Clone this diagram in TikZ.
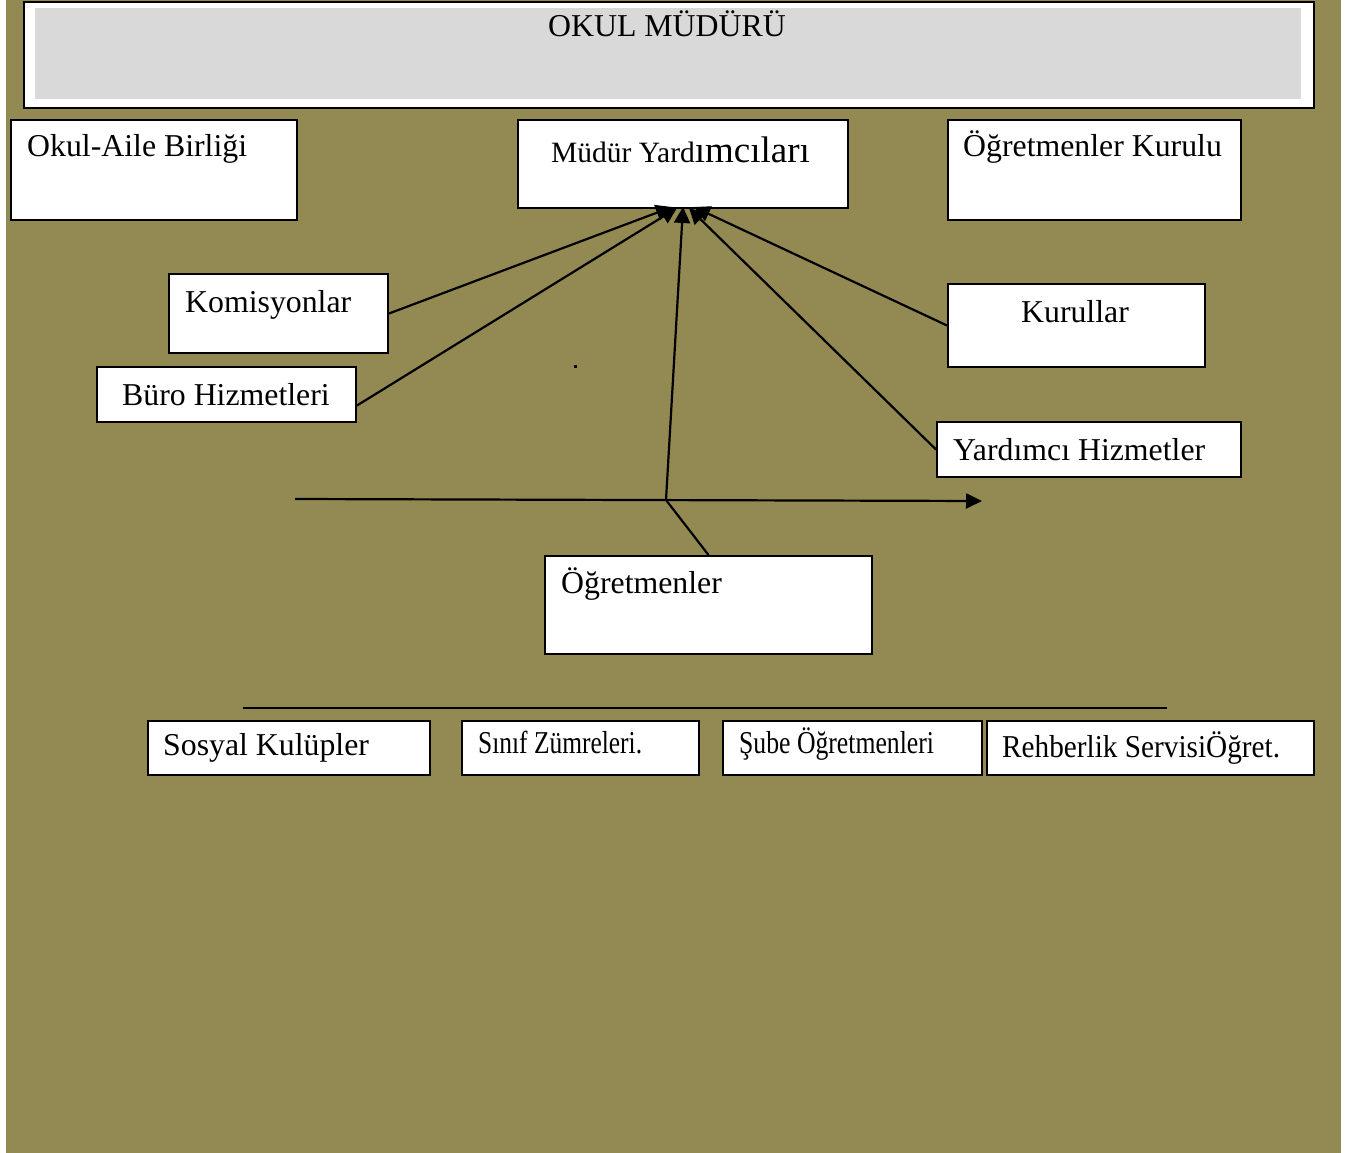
\documentclass[tikz,border=0pt]{standalone}
\usepackage{fontspec}
\setmainfont{Liberation Serif}
\usepackage{graphicx}
\usetikzlibrary{calc,arrows.meta}
\definecolor{olive}{RGB}{147,138,83}
\definecolor{boxgray}{RGB}{217,217,217}
\tikzset{
  box/.style={draw=black, line width=2pt, fill=white, inner sep=0pt, anchor=north west},
  lbl/.style={inner sep=0pt, anchor=base west, font=\fontsize{31.8pt}{36pt}\selectfont},
  conn/.style={draw=black, line width=2.2pt},
  tip/.style={-{Triangle[length=16pt,width=16pt]}}
}
\begin{document}
\begin{tikzpicture}[x=1pt,y=-1pt]
\useasboundingbox (0,0) rectangle (1352,1153);
\fill[white] (0,0) rectangle (1352,1153);
\fill[olive] (6,0) rectangle (1341,1153);
% top box
\node[box, minimum width=1290pt, minimum height=106pt] (top) at (23,1) {};
\fill[boxgray] (35,8) rectangle (1301,99);
\node[inner sep=0pt, anchor=base, font=\fontsize{31.8pt}{36pt}\selectfont] (toplbl) at (667,37) {OKUL MÜDÜRÜ};
% boxes
\node[box, minimum width=286pt, minimum height=100pt] (oab) at (10,119) {};
\node[lbl] (oablbl) at (27,157) {Okul-Aile Birliği};
\node[box, minimum width=330pt, minimum height=88pt] (my) at (517,119) {};
\node[inner sep=0pt, anchor=base west] (mylbl) at (551,162) {\fontsize{29.5pt}{34pt}\selectfont Müdür Yard\fontsize{37pt}{40pt}\selectfont ımcıları};
\node[box, minimum width=293pt, minimum height=100pt] (ok) at (947,119) {};
\node[lbl] (oklbl) at (963,157) {Öğretmenler Kurulu};
\node[box, minimum width=219pt, minimum height=79pt] (kom) at (168,273) {};
\node[lbl] (komlbl) at (185,312) {Komisyonlar};
\node[box, minimum width=259pt, minimum height=55pt] (bu) at (96,366) {};
\node[lbl] (bulbl) at (122,405) {Büro Hizmetleri};
\node[box, minimum width=257pt, minimum height=83pt] (ku) at (947,283) {};
\node[lbl, anchor=base] (kulbl) at (1075,322) {Kurullar};
\node[box, minimum width=304pt, minimum height=55pt] (yh) at (936,421) {};
\node[lbl] (yhlbl) at (953,460) {Yardımcı Hizmetler};
\node[box, minimum width=327pt, minimum height=98pt] (og) at (544,555) {};
\node[lbl] (oglbl) at (561,593) {Öğretmenler};
% bottom row
\node[box, minimum width=282pt, minimum height=54pt] (sk) at (147,720) {};
\node[lbl] (sklbl) at (163,755) {Sosyal Kulüpler};
\node[box, minimum width=237pt, minimum height=54pt] (sz) at (461,720) {};
\node[lbl] (szlbl) at (478,753) {\scalebox{0.8}[1]{Sınıf Zümreleri.}};
\node[box, minimum width=259pt, minimum height=54pt] (so) at (722,720) {};
\node[lbl] (solbl) at (739,753) {\scalebox{0.808}[1]{Şube Öğretmenleri}};
\node[box, minimum width=327pt, minimum height=54pt] (rs) at (986,720) {};
\node[lbl] (rslbl) at (1002,757) {\scalebox{0.92}[1]{Rehberlik ServisiÖğret.}};
% connectors
\coordinate (t1) at (672,207);
\coordinate (t2) at (677,208);
\coordinate (t3) at (683,207);
\coordinate (t4) at (689,208);
\coordinate (t5) at (694,207);
\coordinate (hs) at (295,499);
\coordinate (he) at (982,501);
\coordinate (j) at (666,500);
\draw[conn, tip] (kom.east) -- (t1);
\draw[conn, tip] ($(bu.east)+(0,11)$) -- (t2);
\draw[conn, tip] (j) -- (t3);
\draw[conn, tip] (yh.west) -- (t4);
\draw[conn, tip] (ku.west) -- (t5);
\draw[conn, -{Triangle[length=16pt,width=15pt]}] (hs) -- (he);
\draw[conn] (j) -- (og.north);
\coordinate (ls) at (243,708);
\coordinate (le) at (1167,708);
\draw[conn] (ls) -- (le);
\fill[black] (574,365) rectangle (577,368);
\end{tikzpicture}
\end{document}
